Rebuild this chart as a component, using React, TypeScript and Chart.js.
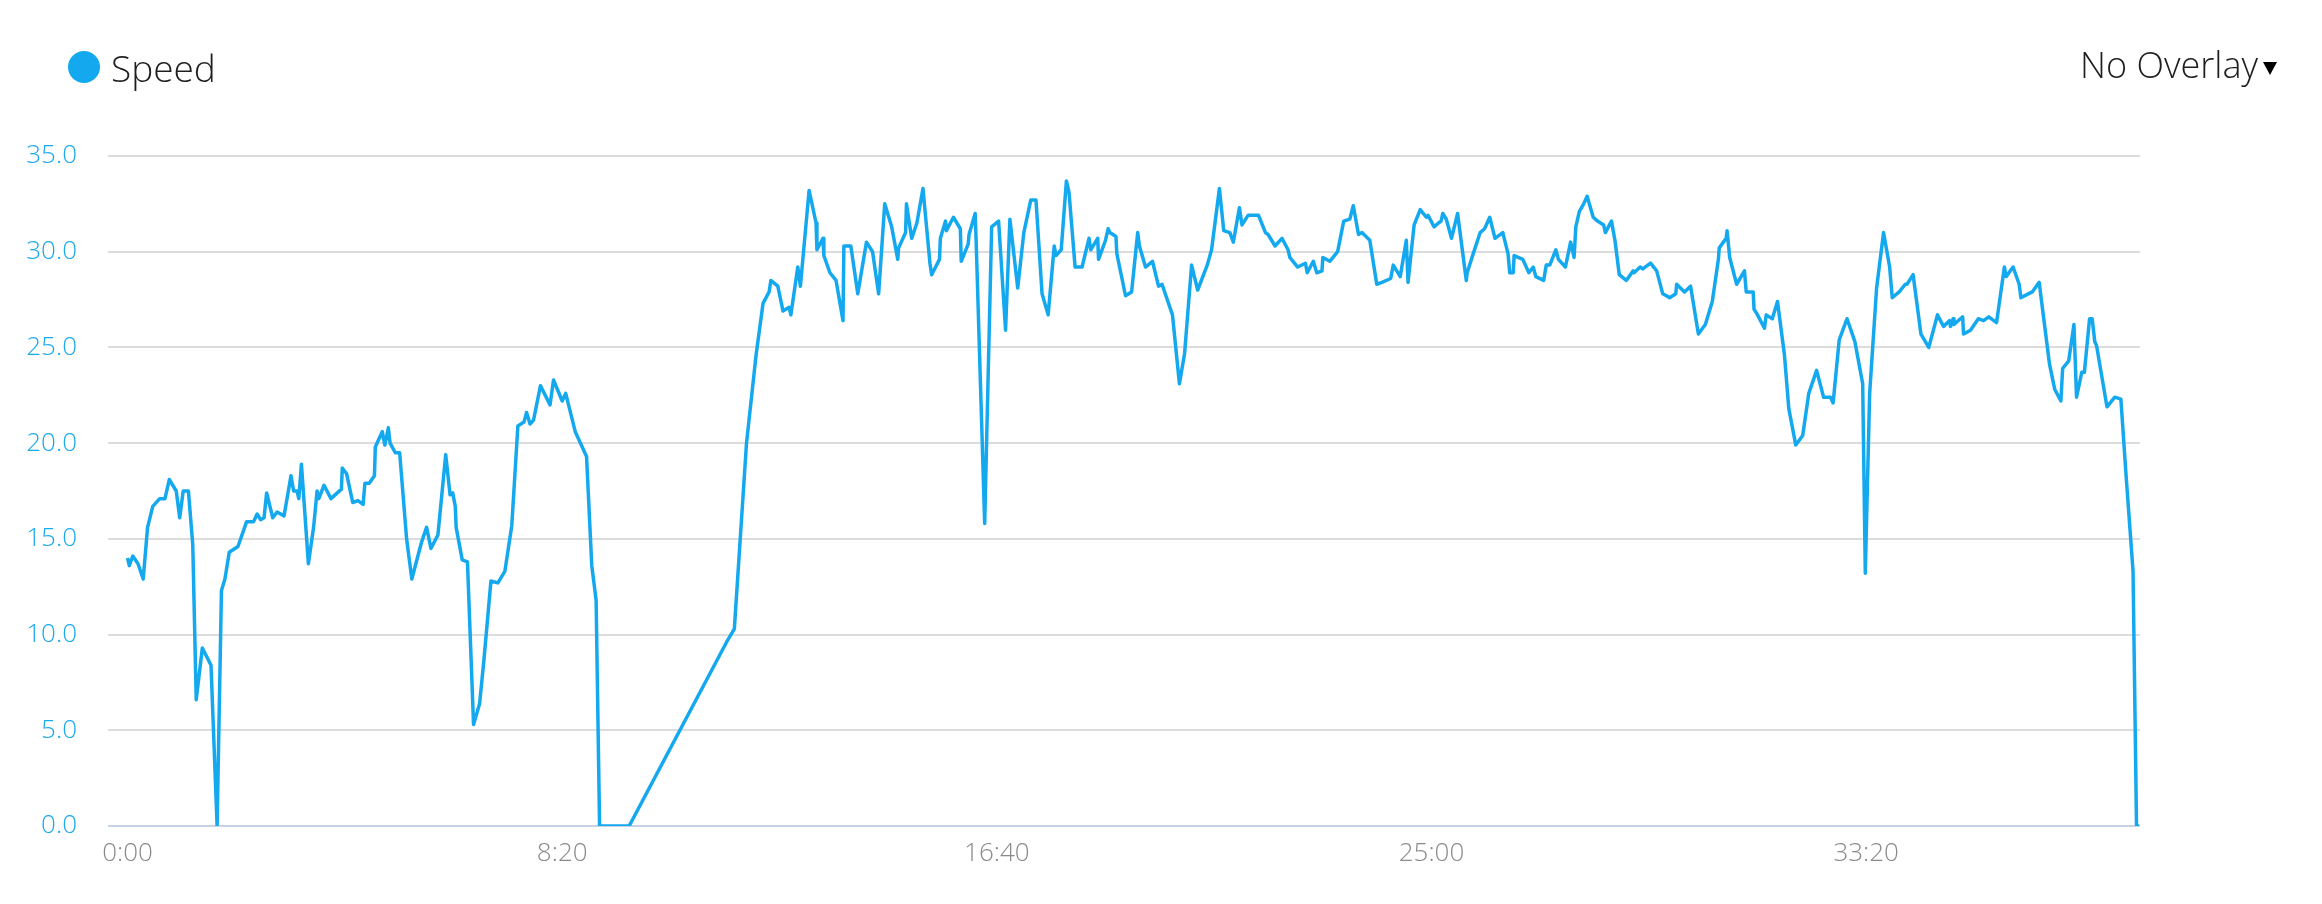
import React, { useEffect, useRef } from 'react';
import Chart from 'chart.js/auto';

// elapsed time in seconds
const times = [
  0, 2, 6, 12, 18, 23, 29, 37, 43, 48, 56, 60, 64, 70, 75, 79, 86, 96, 103, 108,
  112, 117, 127, 137, 145, 149, 153, 157, 160, 167, 172, 180, 188, 191, 195, 197, 200, 208, 214, 218,
  220, 226, 234, 246, 247, 252, 259, 265, 271, 273, 278, 284, 285, 289, 293, 296, 300, 302, 308, 313,
  321, 327, 338, 344, 349, 357, 366, 371, 374, 377, 378, 385, 391, 398, 405, 410, 418, 426, 434, 442,
  449, 456, 459, 463, 467, 475, 486, 490, 500, 504, 515, 528, 534, 539, 543, 577, 689, 698, 712, 723,
  731, 738, 740, 748, 754, 761, 763, 771, 774, 784, 792, 793, 800, 801, 808, 815, 823, 824, 832, 840,
  850, 857, 864, 871, 879, 886, 887, 895, 896, 902, 908, 915, 923, 925, 934, 935, 941, 942, 950, 958,
  959, 967, 968, 975, 976, 986, 994, 1002, 1010, 1015, 1024, 1031, 1039, 1045, 1052, 1059, 1066, 1068, 1074, 1080,
  1083, 1090, 1098, 1106, 1108, 1116, 1117, 1125, 1128, 1130, 1137, 1138, 1148, 1155, 1162, 1164, 1171, 1179, 1186, 1190,
  1202, 1210, 1216, 1224, 1231, 1242, 1247, 1256, 1261, 1268, 1272, 1279, 1282, 1289, 1301, 1309, 1312, 1320, 1328, 1335,
  1337, 1346, 1355, 1357, 1364, 1368, 1374, 1375, 1383, 1392, 1399, 1406, 1410, 1416, 1420, 1429, 1437, 1443, 1453, 1456,
  1464, 1471, 1473, 1480, 1487, 1494, 1496, 1503, 1508, 1511, 1513, 1517, 1523, 1530, 1540, 1541, 1548, 1556, 1561, 1567,
  1573, 1582, 1588, 1590, 1594, 1595, 1605, 1612, 1617, 1620, 1629, 1632, 1636, 1643, 1646, 1654, 1660, 1664, 1666, 1670,
  1675, 1679, 1686, 1691, 1698, 1700, 1707, 1711, 1716, 1724, 1732, 1733, 1740, 1743, 1752, 1759, 1766, 1774, 1781, 1782,
  1791, 1798, 1807, 1815, 1823, 1830, 1831, 1839, 1840, 1843, 1851, 1860, 1862, 1870, 1871, 1875, 1883, 1885, 1892, 1898,
  1906, 1911, 1919, 1927, 1934, 1943, 1951, 1959, 1962, 1969, 1978, 1987, 1996, 1999, 2004, 2012, 2020, 2027, 2030, 2038,
  2045, 2047, 2054, 2063, 2072, 2082, 2089, 2096, 2097, 2100, 2101, 2111, 2112, 2120, 2129, 2135, 2141, 2150, 2159, 2161,
  2169, 2176, 2178, 2191, 2199, 2204, 2211, 2217, 2224, 2226, 2233, 2239, 2242, 2248, 2251, 2257, 2260, 2263, 2265, 2277,
  2286, 2293, 2299, 2307, 2311, 2314,
];

// speed values
const speeds = [
  14.0, 13.6, 14.1, 13.7, 12.9, 15.6, 16.7, 17.1, 17.1, 18.1, 17.5, 16.1, 17.5, 17.5, 14.7, 6.6, 9.3, 8.4, 0, 12.3,
  12.9, 14.3, 14.6, 15.9, 15.9, 16.3, 16.0, 16.1, 17.4, 16.1, 16.4, 16.2, 18.3, 17.5, 17.5, 17.1, 18.9, 13.7, 15.6, 17.5,
  17.1, 17.8, 17.1, 17.6, 18.7, 18.4, 16.9, 17.0, 16.8, 17.9, 17.9, 18.3, 19.8, 20.2, 20.6, 19.9, 20.8, 20.0, 19.5, 19.5,
  15.0, 12.9, 14.8, 15.6, 14.5, 15.2, 19.4, 17.3, 17.4, 16.7, 15.6, 13.9, 13.8, 5.3, 6.4, 8.7, 12.8, 12.7, 13.3, 15.7,
  20.9, 21.1, 21.6, 21.0, 21.2, 23.0, 22.0, 23.3, 22.2, 22.6, 20.6, 19.3, 13.6, 11.8, 0, 0, 9.6, 10.3, 20.0, 24.6,
  27.3, 27.9, 28.5, 28.2, 26.9, 27.1, 26.7, 29.2, 28.2, 33.2, 31.5, 30.1, 30.7, 29.8, 28.9, 28.5, 26.4, 30.3, 30.3, 27.8,
  30.5, 30.0, 27.8, 32.5, 31.3, 29.6, 30.2, 31.0, 32.5, 30.7, 31.5, 33.3, 29.4, 28.8, 29.6, 30.7, 31.6, 31.1, 31.8, 31.2,
  29.5, 30.4, 30.9, 32.0, 30.8, 15.8, 31.3, 31.6, 25.9, 31.7, 28.1, 31.0, 32.7, 32.7, 27.8, 26.7, 30.3, 29.8, 30.1, 33.7,
  33.1, 29.2, 29.2, 30.7, 30.1, 30.7, 29.6, 30.6, 31.2, 31.0, 30.8, 29.9, 27.7, 27.9, 31.0, 30.3, 29.2, 29.5, 28.2, 28.3,
  26.7, 23.1, 24.7, 29.3, 28.0, 29.3, 30.1, 33.3, 31.1, 31.0, 30.5, 32.3, 31.4, 31.9, 31.9, 31.0, 30.9, 30.3, 30.7, 30.1,
  29.7, 29.2, 29.4, 28.9, 29.5, 28.9, 29.0, 29.7, 29.5, 30.0, 31.6, 31.7, 32.4, 30.9, 31.0, 30.6, 28.3, 28.4, 28.6, 29.3,
  28.7, 30.6, 28.4, 31.4, 32.2, 31.8, 31.9, 31.3, 31.5, 31.6, 32.0, 31.7, 30.7, 32.0, 28.5, 28.9, 29.9, 31.0, 31.2, 31.8,
  30.7, 31.0, 29.9, 28.9, 28.9, 29.8, 29.6, 28.9, 29.2, 28.7, 28.5, 29.3, 29.3, 30.1, 29.6, 29.2, 30.5, 29.7, 31.3, 32.1,
  32.5, 32.9, 31.8, 31.6, 31.4, 31.0, 31.6, 30.6, 28.8, 28.5, 29.0, 28.9, 29.2, 29.1, 29.4, 29.0, 27.8, 27.6, 27.8, 28.3,
  27.9, 28.2, 25.7, 26.2, 27.4, 29.6, 30.2, 30.7, 31.1, 29.7, 28.3, 29.0, 27.9, 27.9, 27.0, 26.7, 26.0, 26.7, 26.5, 27.4,
  24.6, 21.8, 19.9, 20.4, 22.6, 23.8, 22.4, 22.4, 22.1, 25.4, 26.5, 25.3, 23.1, 13.2, 22.6, 28.1, 31.0, 29.2, 27.6, 27.9,
  28.3, 28.3, 28.8, 25.7, 25.0, 26.7, 26.1, 26.4, 26.1, 26.5, 26.2, 26.6, 25.7, 25.9, 26.5, 26.4, 26.6, 26.3, 29.2, 28.7,
  29.2, 28.3, 27.6, 27.9, 28.4, 26.6, 24.1, 22.8, 22.2, 23.9, 24.3, 26.2, 22.4, 23.7, 23.7, 26.5, 26.5, 25.3, 25.1, 21.9,
  22.4, 22.3, 18.3, 13.3, 0, 0,
];

// x tick positions (seconds) and y axis range
const xTickValues = [0, 500, 1000, 1500, 2000];
const xMin = -22.5;
const xMax = 2315;
const yMin = 0;
const yMax = 35;
const yStep = 5;

const seriesLabel = 'Speed';
const overlayLabel = 'No Overlay';

const LINE_COLOR = '#14a9ee';
const Y_TICK_COLOR = '#1aa9ea';
const X_TICK_COLOR = '#8a8a8a';
const GRID_COLOR = '#dcdcdc';
const ZERO_COLOR = '#c8d2e5';
const TICK_FONT = "'Open Sans', sans-serif";

function fmtTime(v: number): string {
  const m = Math.floor(v / 60);
  const s = Math.round(v - m * 60);
  return `${m}:${String(s).padStart(2, '0')}`;
}

export default function App() {
  const canvasRef = useRef<HTMLCanvasElement>(null);

  useEffect(() => {
    const canvas = canvasRef.current;
    if (!canvas) return;
    const points = times.map((t, i) => ({ x: t, y: speeds[i] }));
    const chart = new Chart(canvas, {
      type: 'line',
      data: {
        datasets: [
          {
            label: seriesLabel,
            data: points,
            borderColor: LINE_COLOR,
            backgroundColor: LINE_COLOR,
            borderWidth: 3.5,
            pointRadius: 0,
            tension: 0,
            fill: false,
            borderJoinStyle: 'round',
          },
        ],
      },
      options: {
        animation: false,
        responsive: false,
        devicePixelRatio: 1,
        layout: { padding: { left: 0, right: 182, top: 156, bottom: 0 } },
        plugins: { legend: { display: false }, tooltip: { enabled: false } },
        scales: {
          x: {
            type: 'linear',
            min: xMin,
            max: xMax,
            afterBuildTicks: (scale: any) => {
              scale.ticks = xTickValues.map((value) => ({ value }));
            },
            afterFit: (scale: any) => {
              scale.height = 78;
            },
            grid: { display: false, drawTicks: false },
            border: { display: false },
            ticks: {
              color: X_TICK_COLOR,
              font: { family: TICK_FONT, size: 26, weight: '300' as any },
              padding: 12,
              maxRotation: 0,
              autoSkip: false,
              callback: (v: any) => fmtTime(Number(v)),
            },
          },
          y: {
            min: yMin,
            max: yMax,
            afterFit: (scale: any) => {
              scale.width = 108;
            },
            grid: {
              drawTicks: false,
              lineWidth: 2,
              color: (ctx: any) => (ctx.tick && ctx.tick.value === 0 ? ZERO_COLOR : GRID_COLOR),
            },
            border: { display: false },
            ticks: {
              stepSize: yStep,
              color: Y_TICK_COLOR,
              font: { family: TICK_FONT, size: 26, weight: '300' as any },
              padding: 31,
              callback: (v: any) => Number(v).toFixed(1),
            },
          },
        },
      },
    });
    return () => chart.destroy();
  }, []);

  return (
    <div style={{ position: 'absolute', left: 0, top: 0, width: 2322, height: 904, background: '#fff', overflow: 'hidden' }}>
      <canvas ref={canvasRef} width={2322} height={904} style={{ position: 'absolute', left: 0, top: 0, width: 2322, height: 904 }} />
      <div style={{ position: 'absolute', left: 68, top: 51, width: 32, height: 32, borderRadius: '50%', background: LINE_COLOR }} />
      <div style={{ position: 'absolute', left: 111, top: 50, fontFamily: "'Open Sans', sans-serif", fontWeight: 300, fontSize: 37, lineHeight: '36px', color: '#1e1e1e', whiteSpace: 'nowrap' }}>
        {seriesLabel}
      </div>
      <div style={{ position: 'absolute', left: 2080, top: 47, fontFamily: "'Open Sans', sans-serif", fontWeight: 300, fontSize: 36, lineHeight: '36px', color: '#1e1e1e', whiteSpace: 'nowrap' }}>
        {overlayLabel}
      </div>
      <div style={{ position: 'absolute', left: 2263, top: 62, width: 0, height: 0, borderLeft: '7px solid transparent', borderRight: '7px solid transparent', borderTop: '13px solid #000' }} />
    </div>
  );
}
